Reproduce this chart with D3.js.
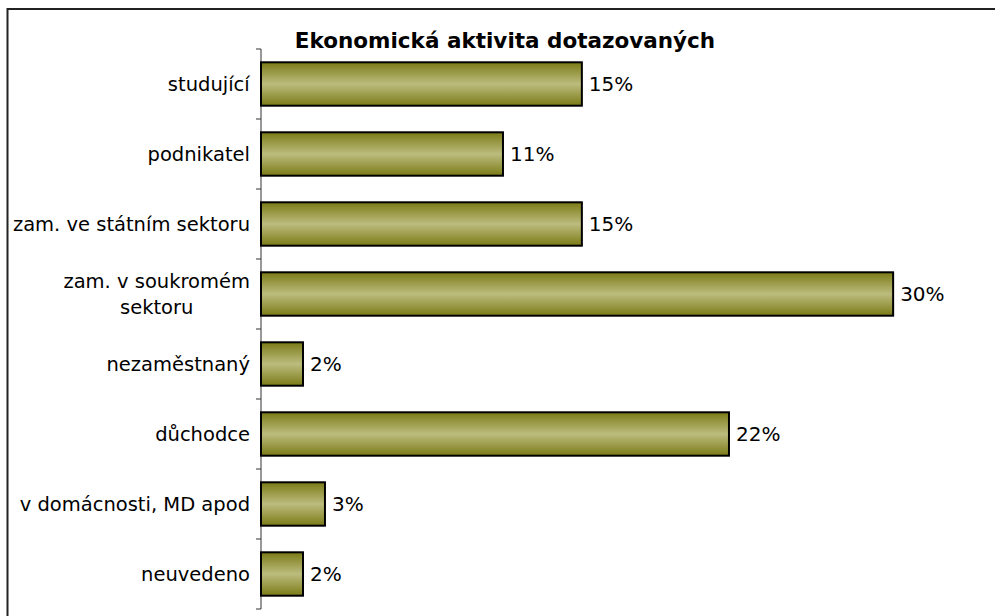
<!DOCTYPE html>
<html>
<head>
<meta charset="utf-8">
<script src="https://cdn.jsdelivr.net/npm/d3@7"></script>
<style>
  body { margin: 0; background: #fff; }
  text { font-family: "DejaVu Sans", Verdana, sans-serif; fill: #000; }
</style>
</head>
<body>
<div id="chart"></div>
<script>

// data
const categories = ["studující", "podnikatel", "zam. ve státním sektoru", "zam. v soukromém sektoru",
                    "nezaměstnaný", "důchodce", "v domácnosti, MD apod", "neuvedeno"];
const values = [15.05, 11.35, 15.05, 29.65, 1.97, 21.95, 3.0, 1.97];
const valueLabels = ["15%", "11%", "15%", "30%", "2%", "22%", "3%", "2%"];
const title = "Ekonomická aktivita dotazovaných";

// some categories wrap onto two lines
const wrapped = { "zam. v soukromém sektoru": ["zam. v soukromém", "sektoru"] };

const width = 995, height = 616;

const svg = d3.select("#chart")
  .append("svg")
  .attr("width", width)
  .attr("height", height);

// gradient for the bars, dark at top and bottom, light in middle
const grad = svg.append("defs").append("linearGradient")
  .attr("id", "olive")
  .attr("x1", 0).attr("y1", 0).attr("x2", 0).attr("y2", 1);
grad.append("stop").attr("offset", "0%").attr("stop-color", "#7b7b17");
grad.append("stop").attr("offset", "50%").attr("stop-color", "#bcbc7e");
grad.append("stop").attr("offset", "100%").attr("stop-color", "#7b7b17");

// chart frame (cut off on right and bottom)
svg.append("rect")
  .attr("x", 7.5).attr("y", 9)
  .attr("width", 1000).attr("height", 700)
  .attr("fill", "none")
  .attr("stroke", "#222")
  .attr("stroke-width", 2);

// scales
let xScale = d3.scaleLinear()
  .domain([0, 35])
  .range([261, 261 + 35 * 21.32]);

let yScale = d3.scaleBand()
  .domain(categories)
  .range([49, 609])
  .paddingInner(0.38)
  .paddingOuter(0.19);

// title
svg.append("text")
  .attr("x", 505)
  .attr("y", 48)
  .attr("text-anchor", "middle")
  .attr("font-size", "21.5px")
  .attr("font-weight", "bold")
  .text(title);

// category axis, ticks sit between categories
const step = yScale.step();
const tickYs = d3.range(categories.length + 1).map(i => 49 + i * step);
const axis = svg.append("g");
axis.append("line")
  .attr("x1", 261).attr("x2", 261)
  .attr("y1", tickYs[0]).attr("y2", tickYs[tickYs.length - 1])
  .attr("stroke", "#333");
axis.selectAll(".tick")
  .data(tickYs)
  .enter()
  .append("line")
    .attr("x1", 256).attr("x2", 261)
    .attr("y1", d => d).attr("y2", d => d)
    .attr("stroke", "#333");

// category labels
categories.forEach(c => {
  const lines = wrapped[c] || [c];
  const cy = yScale(c) + yScale.bandwidth() / 2;
  const t = svg.append("text")
    .attr("font-size", "19.5px")
    .attr("text-anchor", "middle");
  lines.forEach((l, i) => {
    t.append("tspan")
      .attr("x", 0)
      .attr("y", cy + (i - (lines.length - 1) / 2) * 26)
      .attr("dy", "0.35em")
      .text(l);
  });
  // right-align the whole block at x=250
  const w = t.node().getBBox().width;
  t.attr("transform", `translate(${250 - w / 2},0)`);
});

// bars
svg.selectAll(".bar")
  .data(values)
  .enter()
  .append("rect")
    .attr("class", "bar")
    .attr("x", xScale(0))
    .attr("y", (d, i) => yScale(categories[i]))
    .attr("width", d => xScale(d) - xScale(0))
    .attr("height", yScale.bandwidth())
    .attr("fill", "url(#olive)")
    .attr("stroke", "#000")
    .attr("stroke-width", 2);

// value labels
svg.selectAll(".val")
  .data(values)
  .enter()
  .append("text")
    .attr("class", "val")
    .attr("x", d => xScale(d) + 7)
    .attr("y", (d, i) => yScale(categories[i]) + yScale.bandwidth() / 2)
    .attr("dy", "0.35em")
    .attr("font-size", "20px")
    .text((d, i) => valueLabels[i]);

</script>
</body>
</html>
